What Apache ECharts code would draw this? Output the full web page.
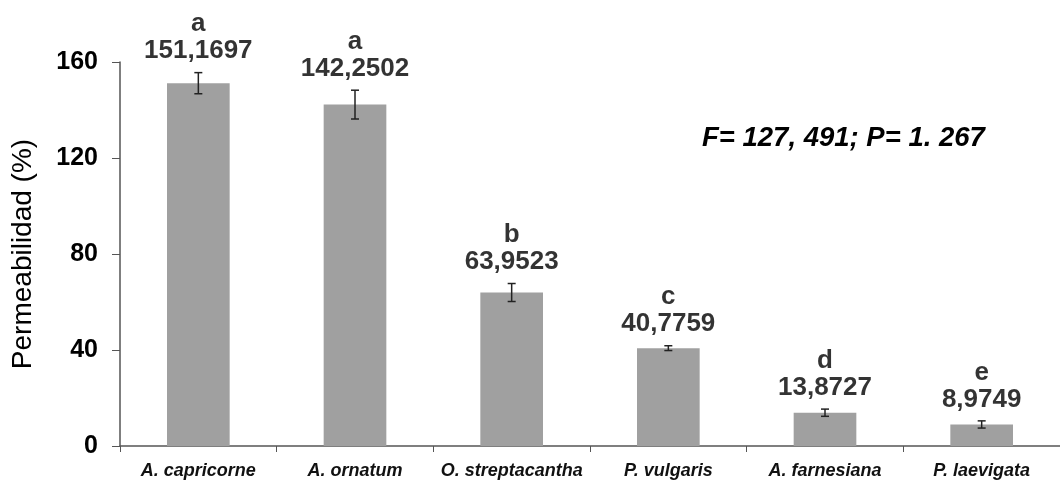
<!DOCTYPE html>
<html>
<head>
<meta charset="utf-8">
<script src="https://cdn.jsdelivr.net/npm/echarts@6/dist/echarts.min.js"></script>
<style>html,body{margin:0;padding:0;background:#fff}#c{width:1060px;height:486px}</style>
</head>
<body>
<div id="c"></div>
<script>
const categories = ['A. capricorne','A. ornatum','O. streptacantha','P. vulgaris','A. farnesiana','P. laevigata'];
const values = [151.1697, 142.2502, 63.9523, 40.7759, 13.8727, 8.9749];
const valueLabels = ['151,1697','142,2502','63,9523','40,7759','13,8727','8,9749'];
const errors = [4.4, 6.0, 3.75, 1.0, 1.5, 1.5];
const groups = ['a','a','b','c','d','e'];
const yTicks = [0, 40, 80, 120, 160];

const font = '"Liberation Sans", Arial, sans-serif';
const chart = echarts.init(document.getElementById('c'));
chart.setOption({
  animation: false,
  grid: {left: 120, right: 0, top: 62, bottom: 40},
  xAxis: {
    type: 'category', data: categories,
    axisLine: {lineStyle: {color: '#555', width: 1.5}},
    axisTick: {show: true, interval: 0, length: 6, lineStyle: {color: '#555'}},
    axisLabel: {interval: 0, fontFamily: font, fontSize: 18, fontWeight: 'bold', fontStyle: 'italic', color: '#111', margin: 16}
  },
  yAxis: {
    type: 'value', min: 0, max: 160, interval: 40,
    name: 'Permeabilidad (%)', nameLocation: 'middle', nameGap: 83,
    nameTextStyle: {fontFamily: font, fontSize: 28, color: '#000'},
    axisLine: {show: true, lineStyle: {color: '#555', width: 1.5}},
    axisTick: {show: true, length: 8, lineStyle: {color: '#555'}},
    splitLine: {show: false},
    axisLabel: {fontFamily: font, fontSize: 25, fontWeight: 'bold', color: '#000', margin: 22,
      formatter: v => yTicks.includes(v) ? String(v) : ''}
  },
  series: [
    {
      type: 'bar', data: values, barWidth: '40%',
      itemStyle: {color: '#a0a0a0'}
    },
    {
      type: 'custom',
      data: values.map((v, i) => [i, v, errors[i]]),
      renderItem: function (params, api) {
        const x = api.value(0), v = api.value(1), e = api.value(2);
        const top = api.coord([x, v + e]);
        const bot = api.coord([x, v - e]);
        const cap = 4;
        const st = {stroke: '#222', lineWidth: 1.5};
        return {type: 'group', children: [
          {type: 'line', shape: {x1: top[0], y1: top[1], x2: bot[0], y2: bot[1]}, style: st},
          {type: 'line', shape: {x1: top[0]-cap, y1: top[1], x2: top[0]+cap, y2: top[1]}, style: st},
          {type: 'line', shape: {x1: bot[0]-cap, y1: bot[1], x2: bot[0]+cap, y2: bot[1]}, style: st}
        ]};
      },
      z: 5
    },
    {
      type: 'scatter', symbolSize: 0,
      data: values.map((v, i) => [i, v + errors[i]]),
      label: {
        show: true, position: 'top', distance: 8,
        formatter: p => '{g|' + groups[p.dataIndex] + '}\n{v|' + valueLabels[p.dataIndex] + '}',
        rich: {
          g: {fontFamily: font, fontSize: 26, fontWeight: 'bold', color: '#000', lineHeight: 27, align: 'center'},
          v: {fontFamily: font, fontSize: 26, fontWeight: 'bold', color: '#000', lineHeight: 27, align: 'center'}
        }
      },
      z: 6
    }
  ],
  graphic: [{
    type: 'text', x: 702, y: 138,
    style: {text: 'F= 127, 491; P= 1. 267', fontFamily: font, fontSize: 27.5, fontWeight: 'bold', fontStyle: 'italic', fill: '#000', verticalAlign: 'middle', align: 'left'}
  }]
});
</script>
</body>
</html>
